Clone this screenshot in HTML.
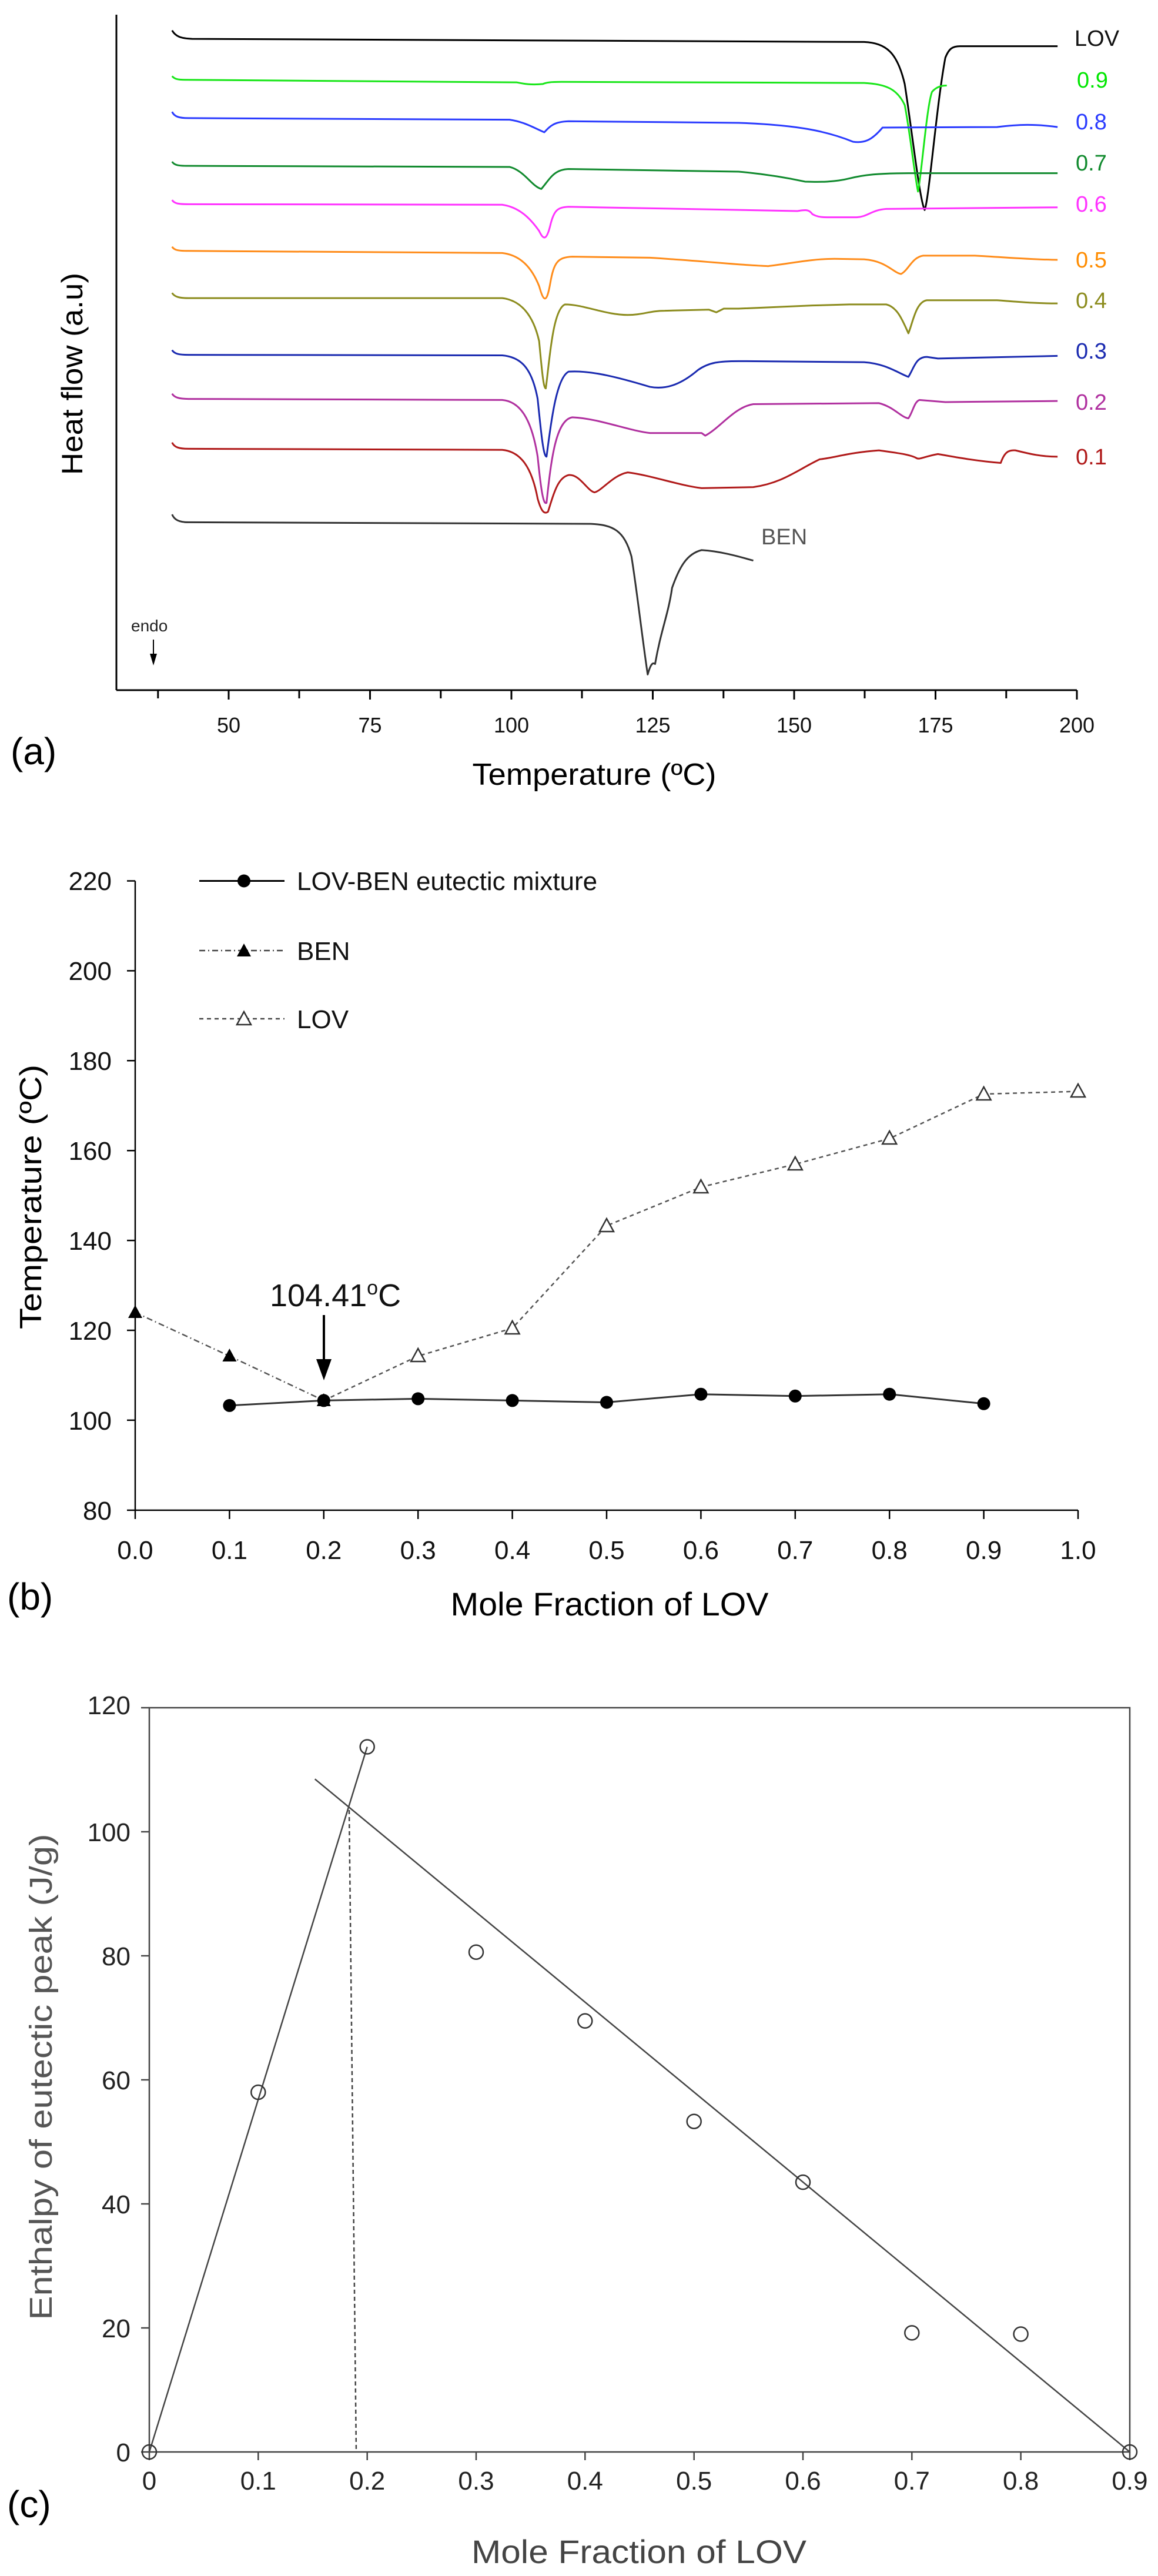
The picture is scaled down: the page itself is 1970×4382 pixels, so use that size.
<!DOCTYPE html>
<html><head><meta charset="utf-8"><style>
html,body{margin:0;padding:0;background:#fff;}
svg{display:block;}
text{font-family:"Liberation Sans",sans-serif;}
</style></head><body>
<svg width="1970" height="4382" viewBox="0 0 1970 4382" xmlns="http://www.w3.org/2000/svg">
<rect width="1970" height="4382" fill="#fff"/>

<!-- ===== Panel (a) ===== -->
<g stroke="#000" stroke-width="3" fill="none">
<line x1="198" y1="25" x2="198" y2="1174"/>
<line x1="198" y1="1174" x2="1832" y2="1174"/>
<path d="M268.8,1174v14M389,1174v16M509,1174v14M629.5,1174v16M749.8,1174v14M870,1174v16M990,1174v14M1110.5,1174v16M1230.8,1174v14M1351,1174v16M1471,1174v14M1591.5,1174v16M1711.8,1174v14M1832,1174v16"/>
</g>
<g font-size="36" fill="#111" text-anchor="middle">
<text x="389" y="1246">50</text><text x="629.5" y="1246">75</text><text x="870" y="1246">100</text>
<text x="1110.5" y="1246">125</text><text x="1351" y="1246">150</text><text x="1591.5" y="1246">175</text><text x="1832" y="1246">200</text>
</g>
<text x="1011" y="1335" font-size="52" text-anchor="middle" textLength="415" lengthAdjust="spacingAndGlyphs">Temperature (ºC)</text>
<text transform="translate(140,636) rotate(-90)" font-size="50" text-anchor="middle" textLength="344" lengthAdjust="spacingAndGlyphs">Heat flow (a.u)</text>
<text x="18" y="1300" font-size="64">(a)</text>
<text x="223" y="1074" font-size="28" fill="#222">endo</text>
<line x1="261" y1="1088" x2="261" y2="1115" stroke="#000" stroke-width="2"/>
<polygon points="255,1112 267,1112 261,1132" fill="#000"/>

<g transform="scale(1.2564 0.8929)" fill="none" stroke-width="3" stroke-linejoin="round">
<path vector-effect="non-scaling-stroke" stroke="#000" d="M233,58 C238,70 245,73 260,74 L1170,80 C1200,82 1215,100 1225,160 C1235,250 1245,380 1252,400 C1258,380 1268,200 1280,110 C1285,92 1290,88 1300,88 L1432,88"/>
<path vector-effect="non-scaling-stroke" stroke="#19e619" d="M233,145 C236,150 240,152 250,152 L700,157 C710,160 720,162 735,160 C740,157 745,156 760,156 L1170,158 C1200,160 1215,170 1225,200 C1232,250 1238,330 1243,365 C1248,330 1255,200 1262,175 C1268,165 1275,163 1282,163"/>
<path vector-effect="non-scaling-stroke" stroke="#2a3bff" d="M233,213 C236,222 242,225 255,225 L690,228 C710,232 725,245 737,252 C745,240 750,232 770,231 L1000,234 C1080,238 1120,250 1155,270 C1170,273 1180,268 1195,243 L1350,242 C1380,237 1400,236 1432,242"/>
<path vector-effect="non-scaling-stroke" stroke="#118a2e" d="M233,308 C236,315 242,316 255,316 L690,318 C710,325 720,355 733,360 C745,340 750,323 770,322 L1000,327 C1040,332 1070,340 1090,346 C1110,347 1130,347 1150,340 C1170,333 1190,330 1230,330 L1432,330"/>
<path vector-effect="non-scaling-stroke" stroke="#ff33ff" d="M233,381 C236,388 242,389 255,389 L680,390 C705,395 720,420 730,440 C736,458 740,458 745,430 C750,400 755,395 770,394 L1080,402 C1090,400 1095,398 1100,408 C1105,412 1110,414 1120,414 L1160,414 C1175,413 1180,400 1200,398 L1432,395"/>
<path vector-effect="non-scaling-stroke" stroke="#ff8c1a" d="M233,470 C236,477 242,478 255,478 L680,482 C705,486 720,510 730,545 C736,575 740,580 745,540 C750,500 755,490 775,489 L880,491 C950,497 1000,505 1040,507 C1070,502 1100,493 1130,493 L1170,494 C1200,497 1210,520 1220,522 C1230,515 1235,490 1250,487 L1320,487 C1360,490 1400,495 1432,495"/>
<path vector-effect="non-scaling-stroke" stroke="#8c8c1e" d="M233,558 C236,565 242,568 255,568 L680,568 C705,572 722,600 730,650 C734,710 736,740 739,740 C744,690 748,590 765,580 C790,580 820,600 850,600 C870,600 880,592 900,592 L960,590 L970,595 L980,588 L1000,588 L1100,582 L1150,580 L1200,580 C1215,585 1222,610 1230,635 C1236,615 1240,575 1255,572 L1350,572 C1380,575 1400,578 1432,578"/>
<path vector-effect="non-scaling-stroke" stroke="#1a2ab0" d="M233,667 C236,674 242,676 255,676 L680,677 C705,680 720,700 728,760 C733,830 736,870 740,870 C745,820 752,720 770,708 C800,705 840,720 880,737 C900,742 920,735 945,705 C960,690 975,688 1000,688 L1170,690 C1200,693 1215,710 1230,718 C1238,700 1240,680 1255,680 L1270,683 L1432,678"/>
<path vector-effect="non-scaling-stroke" stroke="#b0309f" d="M233,750 C236,757 242,760 255,760 L680,762 C705,765 720,800 728,870 C733,940 736,962 740,958 C746,880 752,800 775,795 C810,797 850,820 880,825 L950,825 L955,830 C975,815 995,775 1020,770 L1190,768 C1210,775 1220,795 1230,797 C1236,785 1238,765 1245,762 L1280,766 L1432,764"/>
<path vector-effect="non-scaling-stroke" stroke="#b01a1a" d="M233,843 C236,852 242,855 255,855 L680,857 C705,860 720,890 728,950 C733,975 737,980 742,975 C750,940 755,910 770,905 C785,903 795,935 805,938 C815,935 830,905 850,900 C880,905 920,925 950,930 L1020,928 C1060,920 1080,895 1110,875 C1130,872 1150,862 1190,858 C1210,862 1230,865 1240,872 C1245,877 1250,870 1270,865 C1290,870 1320,878 1355,882 C1360,862 1365,857 1375,858 C1395,865 1410,870 1432,870"/>
<path vector-effect="non-scaling-stroke" stroke="#333" d="M233,980 C236,990 242,995 255,995 L800,998 C830,1000 845,1010 855,1060 C862,1120 870,1220 877,1285 C880,1270 883,1260 887,1265 C895,1200 905,1170 910,1120 C920,1080 930,1055 950,1048 C975,1050 1000,1060 1020,1068"/>
</g>
<g font-size="38">
<text x="1828" y="78" fill="#111">LOV</text>
<text x="1832" y="149" fill="#00e600">0.9</text>
<text x="1830" y="220" fill="#2a3bff">0.8</text>
<text x="1830" y="290" fill="#118a2e">0.7</text>
<text x="1830" y="360" fill="#ff33ff">0.6</text>
<text x="1830" y="455" fill="#ff8c00">0.5</text>
<text x="1830" y="524" fill="#8c8c1e">0.4</text>
<text x="1830" y="610" fill="#1a2ab0">0.3</text>
<text x="1830" y="697" fill="#b0309f">0.2</text>
<text x="1830" y="790" fill="#b01a1a">0.1</text>
<text x="1295" y="926" fill="#555">BEN</text>
</g>

<!-- ===== Panel (b) ===== -->
<g stroke="#000" stroke-width="2.5" fill="none">
<line x1="230" y1="1498.5" x2="230" y2="2569"/>
<line x1="230" y1="2569" x2="1834" y2="2569"/>
<path d="M216,1498.5h14M216,1651.4h14M216,1804.3h14M216,1957.2h14M216,2110.1h14M216,2263h14M216,2415.9h14M216,2569h14"/>
<path d="M230,2569v15M390.4,2569v15M550.8,2569v15M711.2,2569v15M871.6,2569v15M1032,2569v15M1192.4,2569v15M1352.8,2569v15M1513.2,2569v15M1673.6,2569v15M1834,2569v15"/>
</g>
<g font-size="44" fill="#111" text-anchor="end">
<text x="190" y="1514">220</text><text x="190" y="1667">200</text><text x="190" y="1820">180</text><text x="190" y="1973">160</text>
<text x="190" y="2126">140</text><text x="190" y="2279">120</text><text x="190" y="2432">100</text><text x="190" y="2585">80</text>
</g>
<g font-size="44" fill="#111" text-anchor="middle">
<text x="230" y="2652">0.0</text><text x="390.4" y="2652">0.1</text><text x="550.8" y="2652">0.2</text><text x="711.2" y="2652">0.3</text>
<text x="871.6" y="2652">0.4</text><text x="1032" y="2652">0.5</text><text x="1192.4" y="2652">0.6</text><text x="1352.8" y="2652">0.7</text>
<text x="1513.2" y="2652">0.8</text><text x="1673.6" y="2652">0.9</text><text x="1834" y="2652">1.0</text>
</g>
<text x="1037" y="2748" font-size="56" text-anchor="middle" textLength="541" lengthAdjust="spacingAndGlyphs">Mole Fraction of LOV</text>
<text transform="translate(70,2036) rotate(-90)" font-size="52" text-anchor="middle" textLength="450" lengthAdjust="spacingAndGlyphs">Temperature  (ºC)</text>
<text x="12" y="2738" font-size="64">(b)</text>
<polyline fill="none" stroke="#555" stroke-width="2.5" stroke-dasharray="7,6" points="550.8,2382.4 711.2,2306.8 871.6,2259.4 1032,2085.1 1192.4,2019.4 1352.8,1980.4 1513.2,1936.8 1673.6,1861.1 1834,1856.5"/>
<polyline fill="none" stroke="#555" stroke-width="2.5" stroke-dasharray="10,5,2,5" points="230,2232.6 390.4,2306.8 550.8,2382.4"/>
<polyline fill="none" stroke="#333" stroke-width="3" points="390.4,2390.9 550.8,2382.4 711.2,2379.4 871.6,2382.4 1032,2385.5 1192.4,2371.7 1352.8,2374.8 1513.2,2371.7 1673.6,2387.8"/>
<g fill="#fff" stroke="#333" stroke-width="2.5">
<path d="M711.2,2294l-12,22h24z M871.6,2247l-12,22h24z M1032,2073l-12,22h24z M1192.4,2007l-12,22h24z M1352.8,1968l-12,22h24z M1513.2,1924l-12,22h24z M1673.6,1849l-12,22h24z M1834,1844l-12,22h24z"/>
</g>
<g fill="#000">
<path d="M230,2220l-12,22h24z M390.4,2294l-12,22h24z M550.8,2370l-12,22h24z"/>
<circle cx="390.4" cy="2390.9" r="11"/><circle cx="550.8" cy="2382.4" r="11"/><circle cx="711.2" cy="2379.4" r="11"/>
<circle cx="871.6" cy="2382.4" r="11"/><circle cx="1032" cy="2385.5" r="11"/><circle cx="1192.4" cy="2371.7" r="11"/>
<circle cx="1352.8" cy="2374.8" r="11"/><circle cx="1513.2" cy="2371.7" r="11"/><circle cx="1673.6" cy="2387.8" r="11"/>
</g>
<text x="459" y="2222" font-size="54" fill="#111">104.41<tspan font-size="34" dy="-20">o</tspan><tspan dy="20">C</tspan></text>
<line x1="551" y1="2237" x2="551" y2="2320" stroke="#000" stroke-width="4"/>
<polygon points="538,2312 564,2312 551,2348" fill="#000"/>
<line x1="339" y1="1498.5" x2="484" y2="1498.5" stroke="#000" stroke-width="3"/>
<circle cx="415" cy="1498.5" r="11" fill="#000"/>
<line x1="339" y1="1617" x2="484" y2="1617" stroke="#444" stroke-width="2.5" stroke-dasharray="10,5,2,5"/>
<path d="M415,1605l-12,22h24z" fill="#000"/>
<line x1="339" y1="1733" x2="484" y2="1733" stroke="#444" stroke-width="2.5" stroke-dasharray="7,6"/>
<path d="M415,1721l-12,22h24z" fill="#fff" stroke="#333" stroke-width="2.5"/>
<g font-size="44" fill="#111">
<text x="505" y="1514">LOV-BEN eutectic mixture</text>
<text x="505" y="1633">BEN</text>
<text x="505" y="1749">LOV</text>
</g>

<!-- ===== Panel (c) ===== -->
<rect x="254" y="2905" width="1668" height="1266" fill="none" stroke="#444" stroke-width="2.5"/>
<g stroke="#444" stroke-width="2.5">
<path d="M240,2905h14M240,3116h14M240,3327h14M240,3538h14M240,3749h14M240,3960h14M240,4171h14"/>
<path d="M254,4171v14M439.3,4171v14M624.7,4171v14M810,4171v14M995.3,4171v14M1180.7,4171v14M1366,4171v14M1551.3,4171v14M1736.6,4171v14M1922,4171v14"/>
</g>
<g font-size="44" fill="#222" text-anchor="end">
<text x="222" y="2916">120</text><text x="222" y="3132">100</text><text x="222" y="3343">80</text><text x="222" y="3554">60</text>
<text x="222" y="3765">40</text><text x="222" y="3976">20</text><text x="222" y="4187">0</text>
</g>
<g font-size="44" fill="#222" text-anchor="middle">
<text x="254" y="4235">0</text><text x="439.3" y="4235">0.1</text><text x="624.7" y="4235">0.2</text><text x="810" y="4235">0.3</text>
<text x="995.3" y="4235">0.4</text><text x="1180.7" y="4235">0.5</text><text x="1366" y="4235">0.6</text><text x="1551.3" y="4235">0.7</text>
<text x="1736.6" y="4235">0.8</text><text x="1922" y="4235">0.9</text>
</g>
<text x="1087" y="4360" font-size="56" fill="#444" text-anchor="middle" textLength="570" lengthAdjust="spacingAndGlyphs">Mole Fraction of LOV</text>
<text transform="translate(88,3533) rotate(-90)" font-size="54" fill="#555" text-anchor="middle" textLength="827" lengthAdjust="spacingAndGlyphs">Enthalpy of eutectic peak (J/g)</text>
<text x="12" y="4282" font-size="64">(c)</text>
<g stroke="#444" stroke-width="2.5" fill="none">
<line x1="254" y1="4171" x2="624.7" y2="2971.5"/>
<line x1="535.7" y1="3026.3" x2="1922" y2="4171"/>
<line x1="594" y1="3079" x2="606" y2="4171" stroke-dasharray="7,5"/>
</g>
<g fill="none" stroke="#333" stroke-width="2.5">
<circle cx="254" cy="4171" r="12"/><circle cx="439.3" cy="3559.1" r="12"/><circle cx="624.7" cy="2971.5" r="12"/>
<circle cx="810" cy="3320.7" r="12"/><circle cx="995.3" cy="3437.8" r="12"/><circle cx="1180.7" cy="3608.7" r="12"/>
<circle cx="1366" cy="3712.1" r="12"/><circle cx="1551.3" cy="3968.4" r="12"/><circle cx="1736.6" cy="3970.5" r="12"/>
<circle cx="1922" cy="4171" r="12"/>
</g>
</svg>
</body></html>
